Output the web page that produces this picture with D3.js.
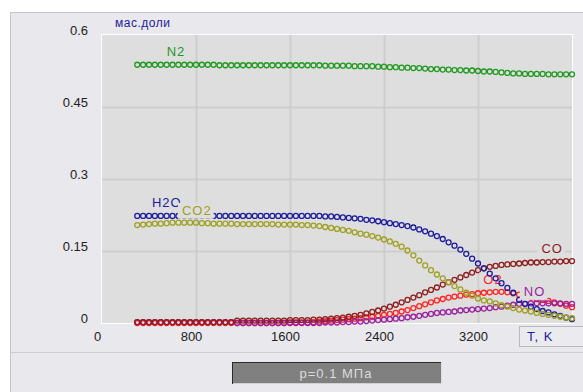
<!DOCTYPE html>
<html>
<head>
<meta charset="utf-8">
<script src="https://cdn.jsdelivr.net/npm/d3@7"></script>
<style>
  body { margin: 0; background: #fff; }
  svg { display: block; font-family: "Liberation Sans", Arial, sans-serif; }
</style>
</head>
<body>
<svg class="chart" width="583" height="392"></svg>
<script>
// temperatures, K (300..4000 step 50)
const temps = d3.range(300, 4001, 50);

const n2 = [
  0.538, 0.538, 0.538, 0.538, 0.538, 0.538, 0.538, 0.538, 0.538, 0.538,
  0.538, 0.538, 0.538, 0.538, 0.537, 0.537, 0.537, 0.537, 0.537, 0.537,
  0.537, 0.537, 0.537, 0.537, 0.537, 0.537, 0.537, 0.537, 0.537, 0.537,
  0.537, 0.537, 0.536, 0.536, 0.536, 0.536, 0.536, 0.535, 0.535, 0.535,
  0.535, 0.534, 0.534, 0.533, 0.533, 0.532, 0.532, 0.531, 0.531, 0.530,
  0.529, 0.529, 0.528, 0.528, 0.527, 0.527, 0.526, 0.526, 0.525, 0.524,
  0.524, 0.523, 0.522, 0.521, 0.520, 0.520, 0.519, 0.519, 0.519, 0.519,
  0.518, 0.518, 0.518, 0.518, 0.518
];
const h2o = [
  0.223, 0.223, 0.223, 0.223, 0.223, 0.223, 0.223, 0.223, 0.223, 0.223,
  0.223, 0.223, 0.223, 0.223, 0.223, 0.223, 0.223, 0.223, 0.223, 0.223,
  0.223, 0.223, 0.223, 0.223, 0.223, 0.223, 0.223, 0.223, 0.223, 0.223,
  0.223, 0.223, 0.222, 0.222, 0.221, 0.220, 0.219, 0.218, 0.217, 0.215,
  0.214, 0.212, 0.210, 0.208, 0.206, 0.204, 0.202, 0.199, 0.195, 0.191,
  0.186, 0.181, 0.175, 0.168, 0.161, 0.153, 0.144, 0.134, 0.124, 0.114,
  0.103, 0.093, 0.083, 0.073, 0.063, 0.048, 0.040, 0.034, 0.029, 0.025,
  0.022, 0.018, 0.015, 0.011, 0.008
];
const co2 = [
  0.204, 0.205, 0.206, 0.207, 0.207, 0.208, 0.209, 0.209, 0.209, 0.209,
  0.209, 0.208, 0.208, 0.207, 0.207, 0.207, 0.207, 0.206, 0.206, 0.206,
  0.206, 0.206, 0.206, 0.206, 0.205, 0.205, 0.205, 0.205, 0.204, 0.204,
  0.203, 0.202, 0.200, 0.198, 0.196, 0.194, 0.192, 0.189, 0.186, 0.184,
  0.181, 0.178, 0.174, 0.170, 0.165, 0.159, 0.151, 0.141, 0.130, 0.120,
  0.110, 0.101, 0.093, 0.085, 0.077, 0.070, 0.063, 0.057, 0.051, 0.047,
  0.045, 0.041, 0.037, 0.034, 0.031, 0.028, 0.026, 0.024, 0.021, 0.019,
  0.017, 0.015, 0.013, 0.011, 0.010
];
const co = [
  0.002, 0.002, 0.002, 0.002, 0.002, 0.002, 0.002, 0.002, 0.002, 0.002,
  0.002, 0.002, 0.002, 0.002, 0.002, 0.002, 0.002, 0.005, 0.005, 0.005,
  0.005, 0.005, 0.005, 0.005, 0.005, 0.005, 0.006, 0.006, 0.006, 0.006,
  0.007, 0.007, 0.008, 0.009, 0.010, 0.011, 0.013, 0.015, 0.017, 0.020,
  0.023, 0.026, 0.030, 0.034, 0.038, 0.043, 0.048, 0.053, 0.058, 0.064,
  0.069, 0.074, 0.080, 0.085, 0.090, 0.095, 0.100, 0.105, 0.110, 0.114,
  0.117, 0.119, 0.121, 0.122, 0.123, 0.124, 0.125, 0.126, 0.126, 0.127,
  0.127, 0.128, 0.128, 0.129, 0.129
];
const o2 = [
  0.000, 0.000, 0.000, 0.000, 0.000, 0.000, 0.000, 0.000, 0.000, 0.000,
  0.000, 0.000, 0.000, 0.000, 0.000, 0.000, 0.000, 0.000, 0.000, 0.000,
  0.000, 0.000, 0.000, 0.000, 0.000, 0.000, 0.001, 0.001, 0.001, 0.001,
  0.002, 0.003, 0.004, 0.005, 0.006, 0.007, 0.008, 0.009, 0.010, 0.012,
  0.013, 0.015, 0.017, 0.019, 0.021, 0.024, 0.027, 0.031, 0.035, 0.039,
  0.043, 0.047, 0.050, 0.053, 0.055, 0.057, 0.059, 0.060, 0.062, 0.063,
  0.064, 0.065, 0.065, 0.064, 0.062, 0.059, 0.056, 0.053, 0.050, 0.048,
  0.046, 0.043, 0.040, 0.036, 0.033
];
const no = [
  0.002, 0.002, 0.002, 0.002, 0.002, 0.002, 0.002, 0.002, 0.002, 0.002,
  0.002, 0.002, 0.002, 0.002, 0.002, 0.002, 0.002, 0.000, 0.000, 0.000,
  0.000, 0.000, 0.000, 0.000, 0.000, 0.000, 0.000, 0.000, 0.000, 0.000,
  0.000, 0.000, 0.001, 0.001, 0.001, 0.002, 0.002, 0.003, 0.003, 0.004,
  0.005, 0.006, 0.007, 0.008, 0.009, 0.010, 0.012, 0.013, 0.015, 0.017,
  0.019, 0.021, 0.022, 0.023, 0.024, 0.026, 0.027, 0.028, 0.029, 0.030,
  0.031, 0.033, 0.034, 0.036, 0.038, 0.040, 0.040, 0.041, 0.041, 0.041,
  0.041, 0.041, 0.041, 0.040, 0.040
];

const xTicks = [0, 800, 1600, 2400, 3200];
const yTicks = [0, 0.15, 0.3, 0.45, 0.6];
const yTickLabels = ['0', '0.15', '0.3', '0.45', '0.6'];

// series: values, colour, label anchor (T, value)
const series = {
  N2:  { values: n2,  color: '#1f9a1f', label: [550, 0.565] },
  NO:  { values: no,  color: '#9a1f9f', label: [3590, 0.066] },
  CO:  { values: co,  color: '#8e1d1d', label: [3740, 0.156] },
  O2:  { values: o2,  color: '#ff2424', label: [3245, 0.090] },
  H2O: { values: h2o, color: '#1c1c9c', label: [425, 0.252] },
  CO2: { values: co2, color: '#a0a023', label: [680, 0.235] }
};

const svg = d3.select('.chart');
const margin = { top: 35, left: 102, right: 11, bottom: 69 };
const width = +svg.attr('width') - margin.left - margin.right;
const height = +svg.attr('height') - margin.top - margin.bottom;

const plotBg = '#dedede';

// outer panel
svg.append('rect')
  .attr('x', 10.5).attr('y', 12.5)
  .attr('width', 580).attr('height', 390)
  .attr('fill', '#e9e8ec')
  .attr('stroke', '#c6c6c8');
svg.append('line')
  .attr('x1', 10).attr('x2', 583)
  .attr('y1', 352.5).attr('y2', 352.5)
  .attr('stroke', '#cdcdd0');

const x = d3.scaleLinear().domain([0, 4000]).range([0, width]);
const y = d3.scaleLinear().domain([0, 0.6]).range([height, 0]);

const g = svg.append('g')
  .attr('transform', 'translate(' + margin.left + ',' + margin.top + ')');

g.append('rect')
  .attr('x', -0.5).attr('y', -0.5)
  .attr('width', width + 1).attr('height', height + 1)
  .attr('fill', plotBg)
  .attr('stroke', '#fff');

// grid + tick labels
const xAxis = g.append('g')
  .attr('transform', 'translate(0,' + height + ')')
  .call(d3.axisBottom(x).tickValues(xTicks).tickSize(-height).tickFormat(d3.format('d')));
xAxis.select('.domain').remove();
xAxis.selectAll('line')
  .attr('stroke', d => d === 0 ? 'none' : '#cdcdcd')
  .attr('stroke-width', 2);
xAxis.selectAll('text')
  .attr('x', -5).attr('y', 9).attr('dy', '0.71em')
  .attr('fill', '#222')
  .style('font-size', '13px');

const yAxis = g.append('g')
  .call(d3.axisLeft(y).tickValues(yTicks).tickSize(-width)
    .tickFormat((d, i) => yTickLabels[i]));
yAxis.select('.domain').remove();
yAxis.selectAll('line')
  .attr('stroke', d => (d === 0 || d === 0.6) ? 'none' : '#cdcdcd')
  .attr('stroke-width', 2);
yAxis.selectAll('text')
  .attr('x', -14).attr('dy', '-0.05em')
  .attr('fill', '#222')
  .style('font-size', '13px');

// label with a box in the plot colour behind it
function drawLabel(name) {
  const s = series[name];
  const lx = x(s.label[0]), ly = y(s.label[1]);
  const t = g.append('text')
    .attr('x', lx).attr('y', ly)
    .attr('dy', '0.35em')
    .attr('fill', s.color)
    .style('font-size', '13px')
    .style('letter-spacing', '1px')
    .text(name);
  const b = t.node().getBBox();
  g.insert('rect', () => t.node())
    .attr('x', b.x - 4).attr('y', b.y)
    .attr('width', b.width + 6).attr('height', b.height + 1)
    .attr('fill', plotBg);
}

function drawSeries(name) {
  const s = series[name];
  g.append('g').selectAll('circle')
    .data(temps.map((t, i) => [t, s.values[i]]))
    .enter().append('circle')
    .attr('cx', d => x(d[0]))
    .attr('cy', d => y(d[1]))
    .attr('r', 2.5)
    .attr('fill', 'none')
    .attr('stroke', s.color)
    .attr('stroke-width', 1.3);
}

drawSeries('N2');
drawSeries('O2');
drawSeries('NO');
drawSeries('CO');
drawLabel('O2');
drawSeries('H2O');
drawSeries('CO2');
drawLabel('H2O');
drawLabel('CO2');
drawLabel('NO');
drawLabel('CO');
drawLabel('N2');

// axis titles
svg.append('text')
  .attr('x', 115).attr('y', 27)
  .attr('fill', '#1c1c9c')
  .style('font-size', '12px')
  .style('letter-spacing', '0.5px')
  .text('мас.доли');

svg.append('rect')
  .attr('x', 519.5).attr('y', 326.5)
  .attr('width', 70).attr('height', 20)
  .attr('fill', '#ebeaee')
  .attr('stroke', '#b9b9bd');
svg.append('text')
  .attr('x', 527).attr('y', 341)
  .attr('fill', '#1c1c9c')
  .style('font-size', '13px')
  .style('letter-spacing', '1px')
  .text('T,  K');

// pressure box
svg.append('rect')
  .attr('x', 232.5).attr('y', 362.5)
  .attr('width', 208).attr('height', 21)
  .attr('fill', '#808080')
  .attr('stroke', '#2a2a2a');
svg.append('line')
  .attr('x1', 441).attr('x2', 441).attr('y1', 363).attr('y2', 384)
  .attr('stroke', '#d0d0d0');
svg.append('line')
  .attr('x1', 233).attr('x2', 441).attr('y1', 383.5).attr('y2', 383.5)
  .attr('stroke', '#d0d0d0');
svg.append('text')
  .attr('x', 336).attr('y', 378)
  .attr('text-anchor', 'middle')
  .attr('fill', '#dcdcdc')
  .style('font-size', '13px')
  .style('letter-spacing', '1px')
  .text('p=0.1  МПа');
</script>
</body>
</html>
